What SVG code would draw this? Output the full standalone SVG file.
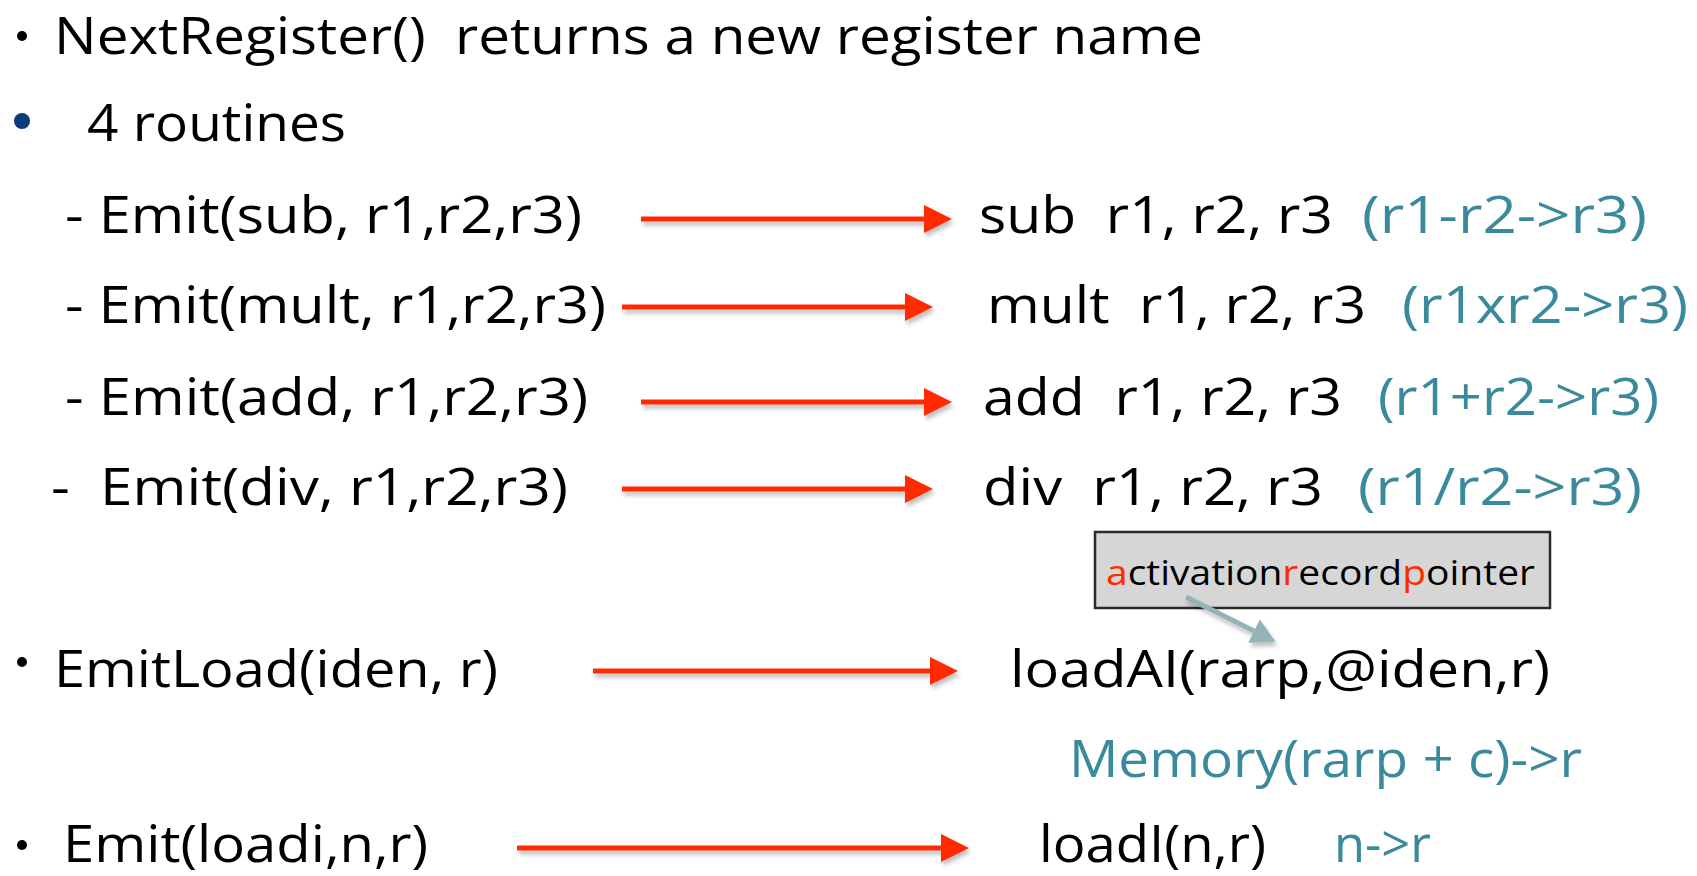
<svg xmlns="http://www.w3.org/2000/svg" width="1697" height="876" viewBox="0 0 1697 876">
<defs>
<style>
.t{font-family:"Open Sans","Noto Sans","Liberation Sans",sans-serif;font-size:52px;fill:#000;white-space:pre}
.c{fill:#3b8a9b}
.s{font-size:34px}
.red{fill:#ff2a00}
.arr{stroke:#ff2a00;stroke-width:5;fill:none;marker-end:url(#ah)}
</style>
<marker id="ah" markerUnits="userSpaceOnUse" markerWidth="30" markerHeight="30" refX="0" refY="14" orient="auto">
<path d="M0,0 L28,14 L0,28 z" fill="#ff2a00"/>
</marker>
<marker id="th" markerUnits="userSpaceOnUse" markerWidth="30" markerHeight="30" refX="0" refY="13" orient="auto">
<path d="M0,0 L24,13 L0,26 z" fill="#93b3b6"/>
</marker>
<filter id="sh" filterUnits="userSpaceOnUse" x="0" y="0" width="1697" height="876">
<feDropShadow dx="2" dy="4" stdDeviation="2" flood-color="#000" flood-opacity="0.25"/>
</filter>
</defs>
<rect width="1697" height="876" fill="#fff"/>

<g id="line1">
<circle cx="22" cy="36" r="5" fill="#000"/>
<text class="t" x="54" y="54" textLength="1149" lengthAdjust="spacingAndGlyphs" xml:space="preserve">NextRegister()  returns a new register name</text>
</g>
<g id="line2">
<circle cx="22" cy="121" r="8" fill="#0a3c78"/>
<text class="t" x="87" y="141" textLength="259" lengthAdjust="spacingAndGlyphs">4 routines</text>
</g>

<g id="emit-sub">
<text class="t" x="65" y="233" textLength="517" lengthAdjust="spacingAndGlyphs">- Emit(sub, r1,r2,r3)</text>
</g>
<g id="sub">
<text class="t" x="979" y="233" textLength="354" lengthAdjust="spacingAndGlyphs" xml:space="preserve">sub  r1, r2, r3</text>
<text class="t c" x="1362" y="233" textLength="285" lengthAdjust="spacingAndGlyphs">(r1-r2-&gt;r3)</text>
</g>

<g id="emit-mult">
<text class="t" x="65" y="323" textLength="541" lengthAdjust="spacingAndGlyphs">- Emit(mult, r1,r2,r3)</text>
</g>
<g id="mult">
<text class="t" x="987" y="323" textLength="379" lengthAdjust="spacingAndGlyphs" xml:space="preserve">mult  r1, r2, r3</text>
<text class="t c" x="1402" y="323" textLength="286" lengthAdjust="spacingAndGlyphs">(r1xr2-&gt;r3)</text>
</g>

<g id="emit-add">
<text class="t" x="65" y="415" textLength="523" lengthAdjust="spacingAndGlyphs">- Emit(add, r1,r2,r3)</text>
</g>
<g id="add">
<text class="t" x="983" y="415" textLength="359" lengthAdjust="spacingAndGlyphs" xml:space="preserve">add  r1, r2, r3</text>
<text class="t c" x="1378" y="415" textLength="281" lengthAdjust="spacingAndGlyphs">(r1+r2-&gt;r3)</text>
</g>

<g id="emit-div">
<text class="t" x="51" y="505" textLength="517" lengthAdjust="spacingAndGlyphs" xml:space="preserve">-  Emit(div, r1,r2,r3)</text>
</g>
<g id="div">
<text class="t" x="983" y="505" textLength="340" lengthAdjust="spacingAndGlyphs" xml:space="preserve">div  r1, r2, r3</text>
<text class="t c" x="1358" y="505" textLength="284" lengthAdjust="spacingAndGlyphs">(r1/r2-&gt;r3)</text>
</g>

<g id="arp-box">
<rect x="1095" y="532" width="455" height="76" fill="#d6d6d6" stroke="#2b2b2b" stroke-width="2.5"/>
<text class="t s" x="1106" y="585" textLength="429" lengthAdjust="spacingAndGlyphs"><tspan class="red">a</tspan>ctivation<tspan class="red">r</tspan>ecord<tspan class="red">p</tspan>ointer</text>
</g>

<g id="emit-load">
<circle cx="22" cy="662" r="5" fill="#000"/>
<text class="t" x="54" y="687" textLength="444" lengthAdjust="spacingAndGlyphs">EmitLoad(iden, r)</text>
</g>
<g id="loadai">
<text class="t" x="1010" y="687" textLength="540" lengthAdjust="spacingAndGlyphs">loadAI(rarp,@iden,r)</text>
</g>
<g id="memory">
<text class="t c" x="1069" y="777" textLength="513" lengthAdjust="spacingAndGlyphs">Memory(rarp + c)-&gt;r</text>
</g>

<g id="emit-loadi">
<circle cx="22" cy="845" r="5" fill="#000"/>
<text class="t" x="63" y="862" textLength="365" lengthAdjust="spacingAndGlyphs">Emit(loadi,n,r)</text>
</g>
<g id="loadi">
<text class="t" x="1039" y="862" textLength="227" lengthAdjust="spacingAndGlyphs">loadI(n,r)</text>
<text class="t c" x="1334" y="862" textLength="97" lengthAdjust="spacingAndGlyphs">n-&gt;r</text>
</g>

<g id="connectors">
<g filter="url(#sh)">
<line class="arr" x1="641" y1="219" x2="924" y2="219"/>
<line class="arr" x1="622" y1="307" x2="905" y2="307"/>
<line class="arr" x1="641" y1="402" x2="924" y2="402"/>
<line class="arr" x1="622" y1="489" x2="905" y2="489"/>
<line class="arr" x1="593" y1="671" x2="930" y2="671"/>
<line class="arr" x1="517" y1="848" x2="941" y2="848"/>
<line x1="1186" y1="597" x2="1254" y2="631" stroke="#93b3b6" stroke-width="5" marker-end="url(#th)"/>
</g>
</g>
</svg>
